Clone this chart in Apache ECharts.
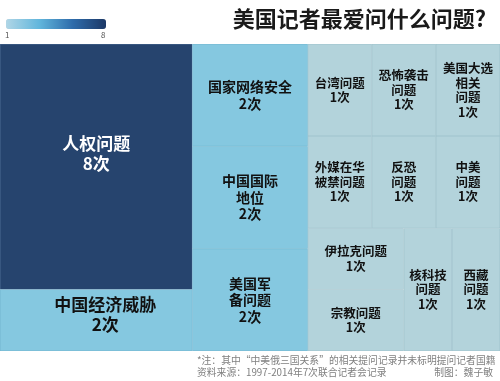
<!DOCTYPE html>
<html><head><meta charset="utf-8">
<script src="https://cdn.jsdelivr.net/npm/echarts@6/dist/echarts.min.js"></script>
<style>html,body{margin:0;padding:0;background:#fff}#c{width:500px;height:381px}</style>
</head><body><div id="c"></div>
<script>
// ---- data ----
const topics = ['人权问题', '中国经济威胁', '国家网络安全', '中国国际\n地位', '美国军\n备问题',
  '台湾问题', '恐怖袭击\n问题', '美国大选\n相关\n问题', '外媒在华\n被禁问题', '反恐\n问题', '中美\n问题',
  '伊拉克问题', '宗教问题', '核科技\n问题', '西藏\n问题'];
const counts = [8, 2, 2, 2, 2, 1, 1, 1, 1, 1, 1, 1, 1, 1, 1];
// grouping of topic indices (hierarchy only)
const grouping = [[[0, 1], [2, 3, 4]], [5, 6, 7, 8, 9, 10, 11, 12, [13, 14]]];
const legendMin = 1, legendMax = 8;
const titleText = '美国记者最爱问什么问题?';
const note1 = '*注：其中“中美俄三国关系”的相关提问记录并未标明提问记者国籍';
const note2 = '资料来源：1997-2014年7次联合记者会记录';
const note3 = '制图：魏子敏';

// ---- styles ----
const FONT = '"Noto Sans CJK SC", "Noto Sans", sans-serif';
const fillByCount = {1: '#b3d3db', 2: '#85c8e0', 8: '#26446e'};
const borderByCount = {1: '#9fc2cc', 2: '#72b6d0', 8: '#4a6a92'};
const bigLabels = new Set(['人权问题', '中国经济威胁']);
const labelShift = {'人权问题': [0, -13], '中国经济威胁': [9, -6]};

function build(g) {
  if (typeof g === 'number') {
    const c = counts[g], name = topics[g];
    const big = bigLabels.has(name);
    return {
      name: name, value: c,
      itemStyle: {color: fillByCount[c], borderColor: borderByCount[c], borderWidth: 0.5},
      label: {
        color: c >= 8 ? '#ffffff' : '#111111',
        fontSize: big ? 17 : (c >= 2 ? 14 : 12.5),
        lineHeight: big ? 20 : (c >= 2 ? 16.5 : 14.5),
        offset: labelShift[name] || [0, 0]
      }
    };
  }
  const children = g.map(build);
  return {name: '', value: children.reduce((s, ch) => s + ch.value, 0), children: children,
    itemStyle: {borderWidth: 0, gapWidth: 0}};
}
const tree = grouping.map(build);

const chart = echarts.init(document.getElementById('c'), null, {renderer: 'canvas'});
chart.setOption({
  backgroundColor: '#ffffff',
  animation: false,
  title: {
    text: titleText, right: 9, top: 3,
    textStyle: {fontSize: 22, fontWeight: 'bold', color: '#1a1a1a', fontFamily: FONT}
  },
  visualMap: {
    type: 'continuous', min: legendMin, max: legendMax, orient: 'horizontal',
    left: 6, top: 19, itemWidth: 10, itemHeight: 100, padding: 0,
    calculable: false, hoverLink: false, seriesIndex: [],
    inRange: {color: ['#b0d6e6', '#62b6dc', '#2e6cab', '#1c3866']}
  },
  graphic: [
    {type: 'text', left: 5, top: 31, style: {text: String(legendMin), fontSize: 8, fill: '#555', fontFamily: FONT}},
    {type: 'text', left: 101, top: 31, style: {text: String(legendMax), fontSize: 8, fill: '#555', fontFamily: FONT}},
    {type: 'text', left: 197, top: 355, style: {text: note1, fontSize: 9.8, fill: '#808080', fontFamily: FONT}},
    {type: 'text', left: 197, top: 367, style: {text: note2, fontSize: 9.8, fill: '#808080', fontFamily: FONT}},
    {type: 'text', right: 7, top: 367, style: {text: note3, fontSize: 9.8, fill: '#808080', fontFamily: FONT}}
  ],
  series: [{
    type: 'treemap',
    left: 0, top: 44, width: 500, height: 307,
    squareRatio: 1.285,
    sort: false,
    roam: false, nodeClick: false,
    breadcrumb: {show: false},
    visibleMin: 0,
    itemStyle: {borderWidth: 0, gapWidth: 0},
    upperLabel: {show: false},
    label: {
      show: true, position: 'inside', align: 'center', verticalAlign: 'middle',
      fontFamily: FONT, fontWeight: 'bold', padding: 0, overflow: 'none',
      formatter: p => p.name + '\n' + p.value + '次'
    },
    data: tree
  }]
});
</script></body></html>
